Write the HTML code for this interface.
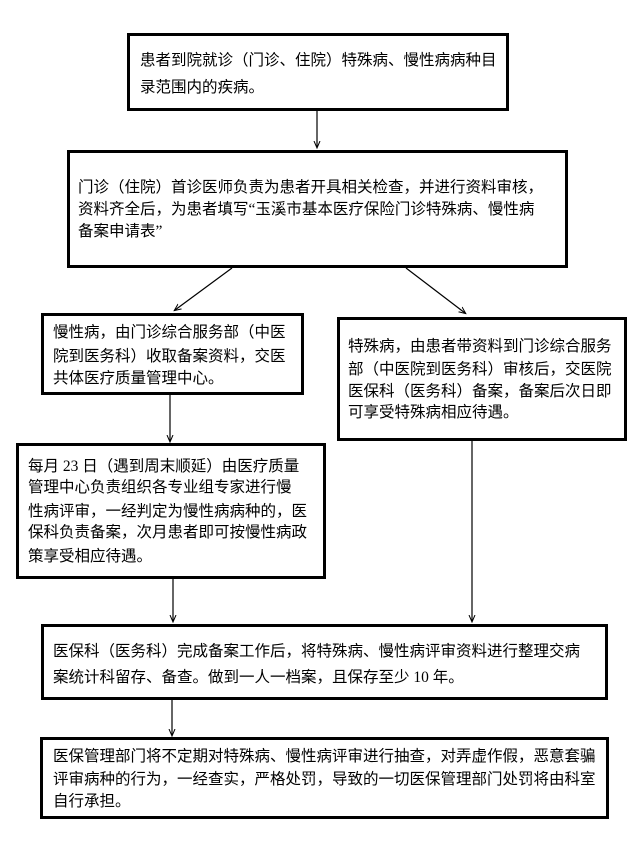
<!DOCTYPE html>
<html><head><meta charset="utf-8"><style>
html,body{margin:0;padding:0;background:#fff;}
body{width:635px;height:843px;position:relative;overflow:hidden;font-family:"Liberation Serif","Noto Sans CJK SC",sans-serif;font-size:15.5px;color:#000;}
.b{position:absolute;border:3px solid #000;box-sizing:border-box;background:#fff;}
.t{position:absolute;white-space:nowrap;line-height:20px;height:20px;}
svg{position:absolute;left:0;top:0;}
</style></head><body>
<svg width="635" height="843">
<defs><marker id="a" markerWidth="8" markerHeight="8" refX="6" refY="4" orient="auto" markerUnits="userSpaceOnUse"><path d="M0,1 L7,4 L0,7" fill="none" stroke="#000" stroke-width="1"/></marker></defs>
<g stroke="#000" stroke-width="1.2" fill="none" marker-end="url(#a)">
<line x1="317" y1="111" x2="317" y2="147"/>
<line x1="232" y1="268" x2="175" y2="310"/>
<line x1="406" y1="268" x2="465" y2="313"/>
<line x1="170" y1="395" x2="170" y2="441"/>
<line x1="173" y1="579" x2="173" y2="621"/>
<line x1="472" y1="441" x2="472" y2="621"/>
<line x1="172" y1="700" x2="172" y2="735"/>
</g></svg>
<div class="b" style="left:127px;top:33px;width:382px;height:78px"></div>
<div class="t" style="left:140px;top:51px">患者到院就诊（门诊、住院）特殊病、慢性病病种目</div>
<div class="t" style="left:140px;top:78px">录范围内的疾病。</div>

<div class="b" style="left:67px;top:150px;width:501px;height:118px"></div>
<div class="t" style="left:78px;top:178px">门诊（住院）首诊医师负责为患者开具相关检查，并进行资料审核，</div>
<div class="t" style="left:78px;top:200px">资料齐全后，为患者填写“玉溪市基本医疗保险门诊特殊病、慢性病</div>
<div class="t" style="left:78px;top:222px">备案申请表”</div>

<div class="b" style="left:41px;top:313px;width:263px;height:82px"></div>
<div class="t" style="left:53px;top:323px">慢性病，由门诊综合服务部（中医</div>
<div class="t" style="left:53px;top:347px">院到医务科）收取备案资料，交医</div>
<div class="t" style="left:53px;top:369px">共体医疗质量管理中心。</div>

<div class="b" style="left:337px;top:317px;width:290px;height:124px"></div>
<div class="t" style="left:348px;top:337px">特殊病，由患者带资料到门诊综合服务</div>
<div class="t" style="left:348px;top:360px">部（中医院到医务科）审核后，交医院</div>
<div class="t" style="left:348px;top:382px">医保科（医务科）备案，备案后次日即</div>
<div class="t" style="left:348px;top:403px">可享受特殊病相应待遇。</div>

<div class="b" style="left:16px;top:443px;width:310px;height:136px"></div>
<div class="t" style="left:28px;top:457px">每月 23 日（遇到周末顺延）由医疗质量</div>
<div class="t" style="left:28px;top:478px">管理中心负责组织各专业组专家进行慢</div>
<div class="t" style="left:28px;top:502px">性病评审，一经判定为慢性病病种的，医</div>
<div class="t" style="left:28px;top:523px">保科负责备案，次月患者即可按慢性病政</div>
<div class="t" style="left:28px;top:547px">策享受相应待遇。</div>

<div class="b" style="left:41px;top:624px;width:567px;height:76px"></div>
<div class="t" style="left:53px;top:642px">医保科（医务科）完成备案工作后，将特殊病、慢性病评审资料进行整理交病</div>
<div class="t" style="left:53px;top:668px">案统计科留存、备查。做到一人一档案，且保存至少 10 年。</div>

<div class="b" style="left:40px;top:737px;width:569px;height:82px"></div>
<div class="t" style="left:53px;top:747px">医保管理部门将不定期对特殊病、慢性病评审进行抽查，对弄虚作假，恶意套骗</div>
<div class="t" style="left:53px;top:770px">评审病种的行为，一经查实，严格处罚，导致的一切医保管理部门处罚将由科室</div>
<div class="t" style="left:53px;top:792px">自行承担。</div>
</body></html>
